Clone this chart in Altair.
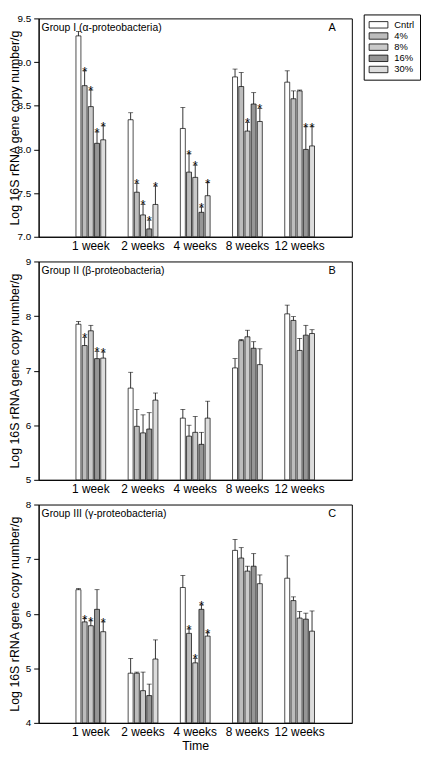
import altair as alt
import pandas as pd

weeks = ["1 week", "2 weeks", "4 weeks", "8 weeks", "12 weeks"]
series = ["Cntrl", "4%", "8%", "16%", "30%"]
fills = ["#ffffff", "#bcbcbc", "#cacaca", "#969696", "#dcdcdc"]

# Group I (alpha) - rows: weeks, cols: series
alpha_mean = [
    [9.30, 8.73, 8.49, 8.07, 8.11],
    [8.34, 7.51, 7.25, 7.09, 7.37],
    [8.24, 7.74, 7.68, 7.28, 7.47],
    [8.83, 8.72, 8.21, 8.52, 8.32],
    [8.77, 8.58, 8.67, 8.00, 8.04],
]
alpha_err = [
    [0.05, 0.17, 0.19, 0.13, 0.16],
    [0.08, 0.10, 0.12, 0.10, 0.21],
    [0.24, 0.21, 0.14, 0.06, 0.15],
    [0.09, 0.16, 0.10, 0.13, 0.15],
    [0.13, 0.09, 0.01, 0.26, 0.22],
]
alpha_sig = [
    [0, 1, 1, 1, 1],
    [0, 1, 1, 1, 1],
    [0, 1, 1, 1, 1],
    [0, 0, 1, 0, 1],
    [0, 0, 0, 1, 1],
]
alpha_ticks = [7.0, 7.5, 8.0, 8.5, 9.0, 9.5]

# Group II (beta)
beta_mean = [
    [7.85, 7.46, 7.73, 7.22, 7.23],
    [6.68, 5.98, 5.86, 5.93, 6.46],
    [6.13, 5.80, 5.87, 5.65, 6.13],
    [7.05, 7.55, 7.62, 7.41, 7.11],
    [8.04, 7.92, 7.37, 7.65, 7.68],
]
beta_err = [
    [0.05, 0.15, 0.10, 0.13, 0.11],
    [0.29, 0.31, 0.33, 0.30, 0.13],
    [0.16, 0.20, 0.29, 0.22, 0.31],
    [0.17, 0.02, 0.12, 0.12, 0.29],
    [0.16, 0.07, 0.22, 0.18, 0.07],
]
beta_sig = [
    [0, 1, 0, 1, 1],
    [0, 0, 0, 0, 0],
    [0, 0, 0, 0, 0],
    [0, 0, 0, 0, 0],
    [0, 0, 0, 0, 0],
]
beta_ticks = [5, 6, 7, 8, 9]

# Group III (gamma)
gamma_mean = [
    [6.44, 5.85, 5.78, 6.08, 5.67],
    [4.91, 4.91, 4.59, 4.50, 5.17],
    [6.48, 5.64, 5.10, 6.08, 5.59],
    [7.16, 7.02, 6.78, 6.87, 6.55],
    [6.65, 6.24, 5.92, 5.90, 5.68],
]
gamma_err = [
    [0.02, 0.06, 0.09, 0.36, 0.18],
    [0.27, 0.02, 0.34, 0.21, 0.35],
    [0.22, 0.08, 0.08, 0.08, 0.06],
    [0.20, 0.19, 0.09, 0.23, 0.16],
    [0.41, 0.07, 0.12, 0.11, 0.37],
]
gamma_sig = [
    [0, 1, 1, 0, 1],
    [0, 0, 0, 0, 0],
    [0, 1, 1, 1, 1],
    [0, 0, 0, 0, 0],
    [0, 0, 0, 0, 0],
]
gamma_ticks = [4, 5, 6, 7, 8]

FONT = "Liberation Sans"
W, H = 317, 221

legend = alt.Legend(
    orient="none", legendX=329, legendY=-4, title=None,
    symbolType="M-1,-0.65L2.8,-0.65L2.8,0.65L-1,0.65Z", symbolSize=100,
    symbolStrokeColor="black", symbolStrokeWidth=0.8,
    labelFontSize=9.5, labelFont=FONT, labelOffset=15, labelColor="black",
    padding=5, strokeColor="black", fillColor="white", rowPadding=0.3,
)


def panel(mean, err, sig, ticks, fmt, label, letter, xtitle):
    rows = []
    for i, w in enumerate(weeks):
        for j, s in enumerate(series):
            rows.append(dict(week=w, series=s, mean=mean[i][j],
                             top=mean[i][j] + err[i][j], base=ticks[0],
                             star="*" if sig[i][j] else ""))
    df = pd.DataFrame(rows)
    yscale = alt.Scale(domain=[ticks[0], ticks[-1]], zero=False, nice=False)
    yaxis = alt.Axis(values=ticks, format=fmt,
                     title="Log 16S rRNA gene copy number/g", titleX=-17)
    xaxis = alt.Axis(labelAngle=0, ticks=False, title=xtitle)
    base = alt.Chart(df).encode(
        x=alt.X("week:N", sort=weeks, axis=xaxis,
                scale=alt.Scale(paddingInner=0.43, paddingOuter=0.715)),
        xOffset=alt.XOffset("series:N", sort=series,
                            scale=alt.Scale(paddingInner=0.2)),
    )
    bars = base.mark_bar(stroke="black", strokeWidth=0.7).encode(
        y=alt.Y("mean:Q", scale=yscale, axis=yaxis),
        y2="base:Q",
        color=alt.Color("series:N", sort=series,
                        scale=alt.Scale(domain=series, range=fills),
                        legend=legend),
    )
    rule = base.mark_rule(color="black", strokeWidth=0.8).encode(
        y="mean:Q", y2="top:Q")
    cap = base.mark_tick(color="black", thickness=0.8, size=5).encode(y="top:Q")
    stars = base.transform_filter("datum.star != ''").mark_text(
        fontSize=13, dy=5, baseline="alphabetic", font=FONT, color="black"
    ).encode(y="top:Q", text="star:N")
    lab = alt.Chart(pd.DataFrame({"t": [label]})).mark_text(
        align="left", baseline="middle", fontSize=10.5, font=FONT, color="black"
    ).encode(x=alt.value(3), y=alt.value(10), text="t:N")
    let = alt.Chart(pd.DataFrame({"t": [letter]})).mark_text(
        align="center", baseline="middle", fontSize=11, font=FONT, color="black"
    ).encode(x=alt.value(297), y=alt.value(10), text="t:N")
    return alt.layer(bars, rule, cap, stars, lab, let).properties(width=W, height=H)


pa = panel(alpha_mean, alpha_err, alpha_sig, alpha_ticks, ".1f",
           "Group I (\u03b1-proteobacteria)", "A", None)
pb = panel(beta_mean, beta_err, beta_sig, beta_ticks, "d",
           "Group II (\u03b2-proteobacteria)", "B", None)
pc = panel(gamma_mean, gamma_err, gamma_sig, gamma_ticks, "d",
           "Group III (\u03b3-proteobacteria)", "C", "Time")

chart = alt.vconcat(pa, pb, pc, spacing=25, bounds="flush").properties(
    padding={"left": 0, "top": 0, "right": 0, "bottom": 0}
).configure_view(stroke="black", strokeWidth=1).configure_axis(
    grid=False, domainColor="black", tickColor="black", tickSize=5,
    labelColor="black", titleColor="black", labelFont=FONT, titleFont=FONT,
    titleFontWeight="normal", labelPadding=3,
).configure_axisY(labelFontSize=10, titleFontSize=12.5).configure_axisX(
    labelFontSize=12, titleFontSize=12.5, labelPadding=4, titlePadding=2,
)

chart.save("out.html", embed_options={"renderer": "svg", "actions": False})
